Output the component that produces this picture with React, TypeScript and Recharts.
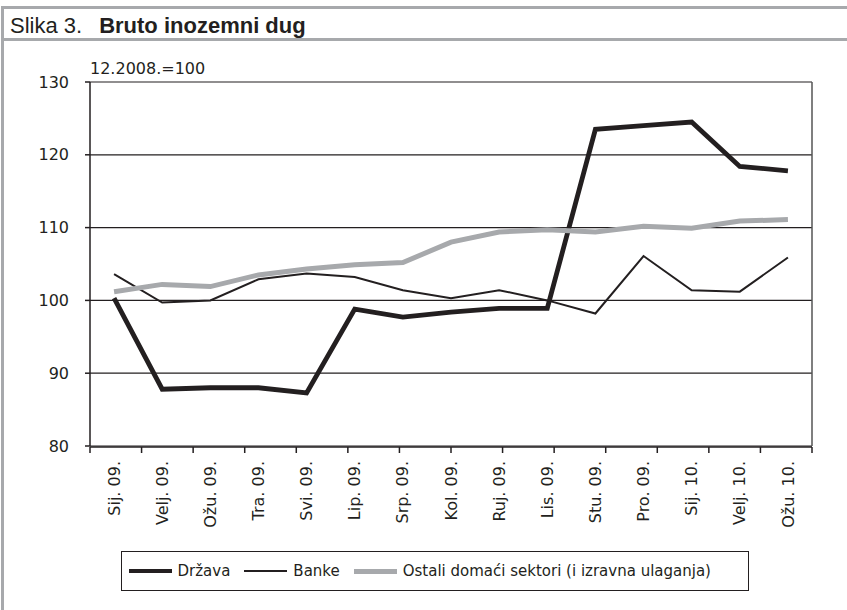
import React from "react";
import { LineChart, Line, XAxis, YAxis, CartesianGrid, Legend, Label } from "recharts";

// index 12.2008. = 100
const months = [
  "Sij. 09.", "Velj. 09.", "Ožu. 09.", "Tra. 09.", "Svi. 09.", "Lip. 09.", "Srp. 09.", "Kol. 09.",
  "Ruj. 09.", "Lis. 09.", "Stu. 09.", "Pro. 09.", "Sij. 10.", "Velj. 10.", "Ožu. 10.",
];
const drzava = [100.3, 87.8, 88.0, 88.0, 87.3, 98.8, 97.7, 98.4, 98.9, 98.9, 123.5, 124.0, 124.5, 118.4, 117.8];
const banke = [103.6, 99.7, 100.0, 102.9, 103.7, 103.2, 101.4, 100.3, 101.4, 100.0, 98.2, 106.1, 101.4, 101.2, 105.9];
const ostali = [101.2, 102.2, 101.9, 103.5, 104.3, 104.9, 105.2, 108.0, 109.4, 109.7, 109.4, 110.2, 109.9, 110.9, 111.1];
const yTicks = [80, 90, 100, 110, 120, 130];
const boundaryTicks = [0, 1, 2, 3, 4, 5, 6, 7, 8, 9, 10, 11, 12, 13, 14, 15];
const seriesOrder = ["drzava", "banke", "ostali"];

const INK = "#231f20";
const GREY = "#a7a9ac";
const FONT = "'DejaVu Sans', sans-serif";

const data = months.map((m, i) => ({ m, drzava: drzava[i], banke: banke[i], ostali: ostali[i] }));

const MonthTick = ({ x, y, payload }: any) => (
  <text
    x={x}
    y={y}
    transform={`rotate(-90, ${x}, ${y})`}
    textAnchor="end"
    dy="0.35em"
    fontSize={16}
    fontFamily={FONT}
    fill={INK}
  >
    {payload.value}
  </text>
);

const renderLegend = ({ payload }: any) => {
  const items = [...(payload || [])].sort(
    (a: any, b: any) => seriesOrder.indexOf(a.dataKey) - seriesOrder.indexOf(b.dataKey)
  );
  return (
    <div
      style={{
        width: 628,
        height: 40,
        boxSizing: "border-box",
        border: `1.5px solid ${INK}`,
        display: "flex",
        alignItems: "center",
        paddingLeft: 6.5,
        fontFamily: FONT,
        fontSize: 15,
        color: INK,
        background: "#fff",
      }}
    >
      {items.map((entry: any, i: number) => (
        <div key={i} style={{ display: "flex", alignItems: "center", marginRight: 14 }}>
          <span
            style={{
              display: "inline-block",
              width: 43,
              height: entry.payload?.strokeWidth ?? 2,
              background: entry.color,
              marginRight: 6,
            }}
          />
          <span>{entry.value}</span>
        </div>
      ))}
    </div>
  );
};

export default function App() {
  return (
    <div style={{ position: "absolute", left: 0, top: 0, width: 847, height: 610, background: "#fff" }}>
      {/* frame */}
      <div style={{ position: "absolute", left: 1, top: 6, width: 3, height: 604, background: GREY }} />
      <div style={{ position: "absolute", left: 1, top: 6, width: 846, height: 3, background: GREY }} />
      <div style={{ position: "absolute", left: 1, top: 38, width: 846, height: 3, background: GREY }} />
      <div
        style={{
          position: "absolute",
          left: 10,
          top: 11,
          height: 29,
          lineHeight: "29px",
          fontFamily: "'Liberation Sans', Arial, sans-serif",
          color: INK,
          whiteSpace: "nowrap",
        }}
      >
        <span style={{ fontSize: 22 }}>Slika 3.</span>
        <span style={{ fontSize: 22, fontWeight: "bold", marginLeft: 17 }}>Bruto inozemni dug</span>
      </div>

      <div style={{ position: "absolute", left: 0, top: 0 }}>
        <LineChart width={847} height={610} data={data} margin={{ top: 82, right: 34, left: 0, bottom: 162 }}>
          <CartesianGrid vertical={false} stroke={INK} strokeWidth={1.2} />
          <XAxis
            xAxisId="tk"
            type="number"
            domain={[0, 15]}
            ticks={boundaryTicks}
            allowDataOverflow
            interval={0}
            height={1}
            stroke={INK}
            strokeWidth={1.5}
            tickSize={6}
            tickLine
            axisLine
            tick={() => <g />}
          />
          <XAxis
            dataKey="m"
            scale="band"
            interval={0}
            height={1}
            tickLine={false}
            axisLine={false}
            tickSize={6}
            tickMargin={9}
            tick={<MonthTick />}
          />
          <YAxis
            domain={[80, 130]}
            ticks={yTicks}
            interval={0}
            width={90}
            stroke={INK}
            strokeWidth={1.5}
            tickSize={5}
            tickMargin={16}
            axisLine
            tickLine
            tick={{ fontSize: 16, fill: INK, fontFamily: FONT, stroke: "none" }}
          >
            <Label
              content={(props: any) => {
                const vb = props.viewBox || { x: 0, y: 82, width: 90 };
                return (
                  <text x={vb.x + vb.width} y={vb.y - 14} dy="0.35em" fontSize={16} fontFamily={FONT} fill={INK}>
                    12.2008.=100
                  </text>
                );
              }}
            />
          </YAxis>
          <YAxis
            yAxisId="r"
            orientation="right"
            domain={[80, 130]}
            width={1}
            tick={false}
            tickLine={false}
            axisLine
            stroke="#555"
            strokeWidth={1.5}
          />
          <Line dataKey="drzava" name="Država" stroke={INK} strokeWidth={4.8} dot={false} isAnimationActive={false} />
          <Line dataKey="banke" name="Banke" stroke={INK} strokeWidth={2} dot={false} isAnimationActive={false} />
          <Line
            dataKey="ostali"
            name="Ostali domaći sektori (i izravna ulaganja)"
            stroke={GREY}
            strokeWidth={5}
            dot={false}
            isAnimationActive={false}
          />
          <Legend
            layout="horizontal"
            verticalAlign="middle"
            align="center"
            wrapperStyle={{ top: 551, left: 121, width: 628, height: 40 }}
            content={renderLegend}
          />
        </LineChart>
      </div>
    </div>
  );
}
